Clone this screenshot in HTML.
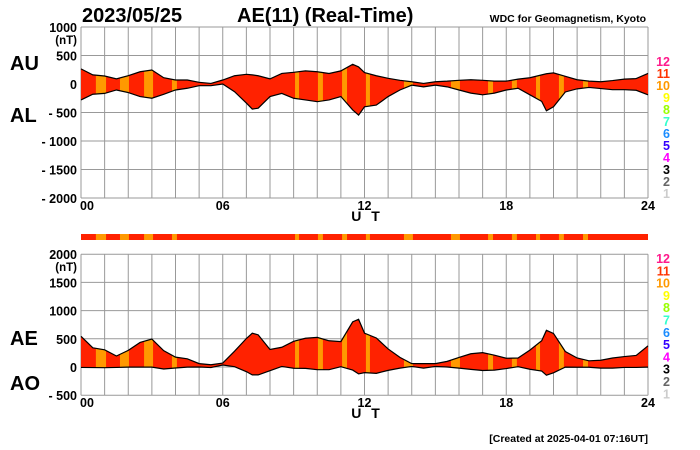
<!DOCTYPE html>
<html><head><meta charset="utf-8"><style>
body{margin:0;background:#fff;}
svg{display:block;font-family:"Liberation Sans",Arial,sans-serif;}
</style></head><body>
<svg id="chart" width="700" height="450" viewBox="0 0 700 450">
<defs>
<clipPath id="clipTop"><polygon id="clipTopPoly" points=""/></clipPath>
<clipPath id="clipBot"><polygon id="clipBotPoly" points=""/></clipPath>
</defs>
<text x="82" y="22" font-size="20" font-weight="bold">2023/05/25</text>
<text x="237" y="22" font-size="20" font-weight="bold">AE(11) (Real-Time)</text>
<text x="646" y="22" font-size="10.5" font-weight="bold" text-anchor="end">WDC for Geomagnetism, Kyoto</text>
<text x="10" y="70" font-size="20" font-weight="bold">AU</text>
<text x="10" y="122" font-size="20" font-weight="bold">AL</text>
<text x="10" y="345" font-size="20" font-weight="bold">AE</text>
<text x="10" y="390" font-size="20" font-weight="bold">AO</text>
<g id="top"></g>
<g id="band"></g>
<g id="bot"></g>
<g id="legends"></g>
<text x="648" y="442" font-size="10.5" font-weight="bold" text-anchor="end">[Created at 2025-04-01 07:16UT]</text>
</svg>
<script>
const hours=[0,0.5,1,1.5,2,2.5,3,3.5,4,4.5,5,5.5,6,6.5,7,7.25,7.5,8,8.5,9,9.5,10,10.5,11,11.5,11.75,12,12.5,13,13.5,14,14.5,15,15.5,16,16.5,17,17.5,18,18.5,19,19.5,19.7,20,20.5,21,21.5,22,22.5,23,23.5,24];
const auValues=[265,160,140,90,145,215,245,110,70,70,30,10,70,145,170,160,145,90,185,205,230,215,185,230,345,300,200,145,100,65,40,10,40,50,65,75,65,50,50,85,110,160,180,195,135,75,50,40,60,85,95,185];
const alValues=[-280,-180,-165,-105,-150,-220,-250,-180,-105,-75,-30,-30,0,-135,-335,-440,-425,-220,-165,-250,-280,-310,-280,-220,-455,-545,-400,-370,-220,-105,-20,-50,-20,-50,-105,-160,-190,-160,-105,-75,-190,-305,-470,-400,-140,-85,-60,-80,-100,-100,-110,-190];
const orangeStarts=[0.63,1.65,2.67,3.85,9.06,10.03,11.05,12.06,13.67,15.66,17.23,18.24,19.26,20.23,21.25];
const orangeEnds=[1.06,2.03,3.05,4.06,9.23,10.24,11.26,12.23,14.05,16.04,17.44,18.45,19.43,20.44,21.46];
const topTicks=[1000,500,0,-500,-1000,-1500,-2000];
const topTickLabels=["1000","500","0","- 500","- 1000","- 1500","- 2000"];
const botTicks=[2000,1500,1000,500,0,-500];
const botTickLabels=["2000","1500","1000","500","0","- 500"];
const xTickHours=[0,6,12,18,24];
const xTickLabels=["00","06","12","18","24"];
const legendNums=["12","11","10","9","8","7","6","5","4","3","2","1"];
const legendColors=["#ff1a8c","#ff3300","#ff9900","#ffff00","#99ff00","#33ffcc","#1a8cff","#3300ff","#ff00ff","#000000","#666666","#cccccc"];

const NS="http://www.w3.org/2000/svg";
const X0=81,X1=648;
const x=h=>X0+(X1-X0)*h/24;
const yTop=v=>84-v*0.057;
const yBot=v=>367-v*0.0564;
function mk(tag,attrs,parent){const e=document.createElementNS(NS,tag);for(const k in attrs)e.setAttribute(k,attrs[k]);parent.appendChild(e);return e;}
const aeValues=auValues.map((u,i)=>u-alValues[i]);
const aoValues=auValues.map((u,i)=>(u+alValues[i])/2);

function panel(g,yf,yMin,yMax,ticks,labels,upper,lower,clipId,polyId,pre){
  const yT=yf(yMax),yB=yf(yMin);
  for(let h=0;h<=24;h++){const l=mk('line',{x1:x(h),x2:x(h),y1:yT,y2:yB,stroke:'#999','stroke-width':1},g);
    
    }
  ticks.forEach((t,i)=>{const l=mk('line',{x1:X0,x2:X1,y1:yf(t),y2:yf(t),stroke:'#999','stroke-width':1},g);
    
    
    const tx=mk('text',{x:77,y:yf(t)+5,'font-size':12.5,'font-weight':'bold','text-anchor':'end'},g);tx.textContent=labels[i];
    
    });
  const nt=mk('text',{x:77,y:yf(ticks[0])+17,'font-size':11.5,'font-weight':'bold','text-anchor':'end'},g);nt.textContent='(nT)';
  
  
  const pts=upper.map((v,i)=>x(hours[i])+','+yf(v)).concat(lower.map((v,i)=>x(hours[i])+','+yf(v)).reverse()).join(' ');
  document.getElementById(polyId).setAttribute('points',pts);
  const fill=mk('polygon',{points:pts,fill:'#ff2200'},g);
  
  
  orangeStarts.forEach((s,i)=>{const r=mk('rect',{x:x(s),y:yT,width:x(orangeEnds[i])-x(s),height:yB-yT,fill:'#ff9900','clip-path':'url(#'+clipId+')'},g);
    
    });
  const up=mk('polyline',{points:upper.map((v,i)=>x(hours[i])+','+yf(v)).join(' '),fill:'none',stroke:'#000','stroke-width':1.2},g);
  
  
  const lo=mk('polyline',{points:lower.map((v,i)=>x(hours[i])+','+yf(v)).join(' '),fill:'none',stroke:'#000','stroke-width':1.2},g);
  
  
  xTickHours.forEach((h,i)=>{const tx=mk('text',{x:x(h)+(i===0?6:0),y:yB+12,'font-size':12.5,'font-weight':'bold','text-anchor':'middle'},g);tx.textContent=xTickLabels[i];
    
    });
  const ut=mk('text',{x:367,y:yB+23,'font-size':14,'font-weight':'bold','text-anchor':'middle','letter-spacing':'3'},g);ut.textContent='U T';
  
  
}
panel(document.getElementById('top'),yTop,-2000,1000,topTicks,topTickLabels,auValues,alValues,'clipTop','clipTopPoly','top');
panel(document.getElementById('bot'),yBot,-500,2000,botTicks,botTickLabels,aeValues,aoValues,'clipBot','clipBotPoly','bottom');

const band=document.getElementById('band');
const br=mk('rect',{x:X0,y:234,width:X1-X0,height:6,fill:'#ff2200'},band);


orangeStarts.forEach((s,i)=>{const r=mk('rect',{x:x(s),y:234,width:x(orangeEnds[i])-x(s),height:6,fill:'#ff9900'},band);
  
  });

const lg=document.getElementById('legends');
[[61,12],[258,12.3]].forEach(([y0,dy],k)=>{legendNums.forEach((n,i)=>{const t=mk('text',{x:670,y:y0+i*dy+5,'font-size':12.5,'font-weight':'bold','text-anchor':'end',fill:legendColors[i]},lg);t.textContent=n;
  
  });});
</script>
</body></html>
